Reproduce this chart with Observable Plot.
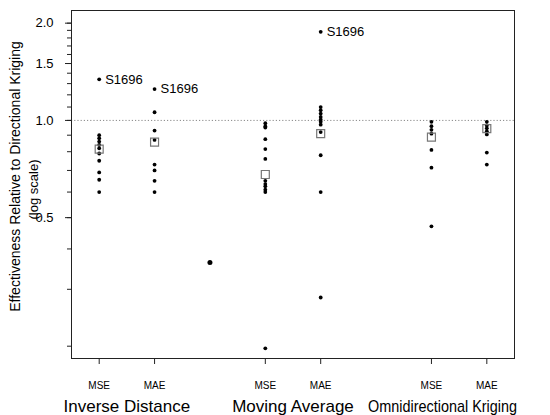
<!DOCTYPE html>
<html><head><meta charset="utf-8">
<script src="https://cdn.jsdelivr.net/npm/d3@7"></script>
<script src="https://cdn.jsdelivr.net/npm/@observablehq/plot@0.6"></script>
<style>body{margin:0;background:#fff;} svg{font-family:"Liberation Sans",Arial,sans-serif;}</style>
</head><body><div id="chart"></div>
<script>
// Categories
const methods = ["Inverse Distance", "Moving Average", "Omnidirectional Kriging"];
const measures = ["MSE", "MAE", "MSE", "MAE", "MSE", "MAE"];
const slotPositions = [1, 2, 4, 5, 7, 8];
const groupLabelPositions = [1.5, 4.5, 7.2];

// Values (effectiveness relative to directional kriging)
const idMSE = [1.34, 0.90, 0.88, 0.86, 0.84, 0.82, 0.79, 0.75, 0.69, 0.655, 0.60];
const idMAE = [1.25, 1.06, 0.93, 0.87, 0.73, 0.70, 0.65, 0.60];
const maMSE = [0.98, 0.96, 0.95, 0.875, 0.815, 0.76, 0.65, 0.635, 0.625, 0.61, 0.60, 0.197];
const maMAE = [1.88, 1.10, 1.075, 1.05, 1.025, 1.005, 0.99, 0.97, 0.92, 0.78, 0.60, 0.283];
const okMSE = [0.99, 0.96, 0.935, 0.91, 0.81, 0.714, 0.47];
const okMAE = [0.99, 0.965, 0.945, 0.925, 0.905, 0.795, 0.73];
const columnValues = [idMSE, idMAE, maMSE, maMAE, okMSE, okMAE];

// Summary (square) per column
const boxValues = [0.815, 0.857, 0.68, 0.91, 0.888, 0.943];

// Labelled outliers
const outlierName = "S1696";
const outlierColumns = [0, 1, 3];

// Stray mark between groups
const strayPositions = [3];
const strayValues = [0.363];

// Axis ticks
const yTicksAll = [0.2, 0.3, 0.4, 0.5, 0.6, 0.7, 0.8, 0.9, 1.0, 1.1, 1.2, 1.3, 1.4, 1.5, 1.6, 1.7, 1.8, 1.9, 2.0];
const yTicksLabeled = [0.5, 1.0, 1.5, 2.0];
const yTitle = "Effectiveness Relative to Directional Kriging";
const ySubtitle = "(log scale)";

const points = columnValues.flatMap((vals, i) => vals.map(v => ({pos: slotPositions[i], value: v})));
const boxes = boxValues.map((v, i) => ({pos: slotPositions[i], value: v}));
const outliers = outlierColumns.map(i => ({pos: slotPositions[i], value: columnValues[i][0], name: outlierName}));
const stray = strayPositions.map((p, i) => ({pos: p, value: strayValues[i]}));
const groups = methods.map((m, i) => ({pos: groupLabelPositions[i], name: m}));

const chart = Plot.plot({
  width: 550, height: 415,
  marginLeft: 71, marginRight: 36, marginTop: 10, marginBottom: 57,
  style: {fontFamily: "'Liberation Sans', Arial, sans-serif", background: "white", color: "black"},
  x: {type: "linear", domain: [0.5, 8.5], axis: null},
  y: {type: "log", domain: [0.1832, 2.189], axis: null},
  marks: [
    Plot.ruleY([1], {stroke: "#888", strokeDasharray: "1.2,2", strokeWidth: 1}),
    Plot.frame({stroke: "#222", strokeWidth: 1}),
    Plot.axisY(yTicksAll, {tickSize: 4, tickFormat: () => "", label: null, stroke: "#222"}),
    Plot.axisY(yTicksLabeled, {tickSize: 6, tickPadding: 12, tickFormat: d3.format(".1f"), label: null, fontSize: 13, stroke: "#222", fill: "black"}),
    Plot.axisX(slotPositions, {tickSize: 6, tickPadding: 17, tickFormat: d => measures[slotPositions.indexOf(d)], label: null, fontSize: 10, stroke: "#222", fill: "black"}),
    Plot.text(groups, {x: "pos", text: "name", frameAnchor: "bottom", textAnchor: "middle", lineAnchor: "top", dy: 41, fontSize: 17, fill: "black", className: "grouplab"}),
    Plot.text([yTitle], {text: d => d, frameAnchor: "left", textAnchor: "middle", rotate: -90, dx: -56, dy: -8, fontSize: 14, fill: "black"}),
    Plot.text([ySubtitle], {text: d => d, frameAnchor: "left", textAnchor: "middle", rotate: -90, dx: -38, dy: 5, fontSize: 13, fill: "black"}),
    Plot.dot(points, {x: "pos", y: "value", r: 1.9, fill: "black"}),
    Plot.dot(stray, {x: "pos", y: "value", r: 2.5, fill: "black"}),
    Plot.dot(boxes, {x: "pos", y: "value", symbol: "square", r: 4.5, stroke: "#777", fill: "none", strokeWidth: 1.2}),
    Plot.text(outliers, {x: "pos", y: "value", text: "name", dx: 6, textAnchor: "start", fontSize: 13, fill: "black"})
  ]
});
document.getElementById("chart").appendChild(chart);
// The reference renders the long third group label condensed
const labs = chart.querySelectorAll("g.grouplab text");
if (labs.length === 3) {
  labs[2].setAttribute("textLength", "149");
  labs[2].setAttribute("lengthAdjust", "spacingAndGlyphs");
}
</script>
</body></html>
